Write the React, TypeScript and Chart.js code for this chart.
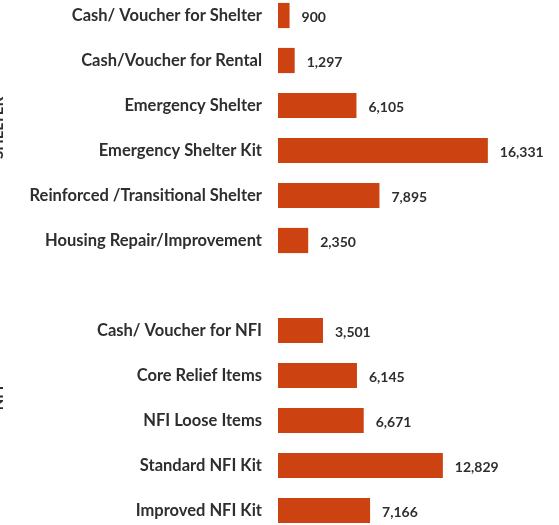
import React, { useEffect, useRef } from "react";
import { Chart, registerables } from "chart.js";

Chart.register(...registerables);

const shelterCategories = [
  "Cash/ Voucher for Shelter",
  "Cash/Voucher for Rental",
  "Emergency Shelter",
  "Emergency Shelter Kit",
  "Reinforced /Transitional Shelter",
  "Housing Repair/Improvement",
];
const shelterValues = [900, 1297, 6105, 16331, 7895, 2350];

const nfiCategories = [
  "Cash/ Voucher for NFI",
  "Core Relief Items",
  "NFI Loose Items",
  "Standard NFI Kit",
  "Improved NFI Kit",
];
const nfiValues = [3501, 6145, 6671, 12829, 7166];

const groupTitles = ["SHELTER", "NFI"];

const categories = [...shelterCategories, "", ...nfiCategories];
const values: (number | null)[] = [...shelterValues, null, ...nfiValues];

const BAR_COLOR = "#CC4210";
const TEXT_COLOR = "#2e2e2e";
const FONT_FAMILY = "Lato, 'Open Sans', sans-serif";

const valueLabelPlugin = {
  id: "valueLabels",
  afterDatasetsDraw(chart: any) {
    const ctx = chart.ctx;
    const meta = chart.getDatasetMeta(0);
    ctx.save();
    ctx.font = `bold 14px ${FONT_FAMILY}`;
    ctx.fillStyle = TEXT_COLOR;
    ctx.textAlign = "left";
    ctx.textBaseline = "middle";
    meta.data.forEach((bar: any, i: number) => {
      const v = values[i];
      if (v == null) return;
      ctx.fillText(v.toLocaleString("en-US"), bar.x + 12, bar.y + 2);
    });
    ctx.restore();
  },
};

const groupTitlePlugin = {
  id: "groupTitles",
  afterDraw(chart: any) {
    const ctx = chart.ctx;
    const y = chart.scales.y;
    const nS = shelterCategories.length;
    const ranges = [
      [0, nS - 1],
      [nS, categories.length - 1],
    ];
    ctx.save();
    ctx.font = `bold 15px ${FONT_FAMILY}`;
    ctx.fillStyle = TEXT_COLOR;
    ctx.textAlign = "center";
    ctx.textBaseline = "alphabetic";
    groupTitles.forEach((t, gi) => {
      const [a, b] = ranges[gi];
      const cy = (y.getPixelForValue(a) + y.getPixelForValue(b)) / 2;
      ctx.save();
      ctx.translate(3, cy);
      ctx.rotate(-Math.PI / 2);
      ctx.fillText(t, 0, 0);
      ctx.restore();
    });
    ctx.restore();
  },
};

export default function App() {
  const ref = useRef<HTMLCanvasElement | null>(null);

  useEffect(() => {
    if (!ref.current) return;
    const chart = new Chart(ref.current, {
      type: "bar",
      data: {
        labels: categories,
        datasets: [
          {
            data: values,
            backgroundColor: BAR_COLOR,
            borderWidth: 0,
            barPercentage: 0.56,
            categoryPercentage: 1,
          },
        ],
      },
      options: {
        indexAxis: "y",
        animation: false,
        responsive: true,
        maintainAspectRatio: false,
        layout: { padding: { left: 0, right: 24, top: 0, bottom: 0 } },
        plugins: {
          legend: { display: false },
          tooltip: { enabled: false },
          title: { display: false },
        },
        scales: {
          x: {
            display: false,
            min: 0,
            max: 20000,
          },
          y: {
            grid: { display: false, drawTicks: false },
            border: { display: false },
            afterFit: (scale: any) => {
              scale.width = 278;
              scale.paddingTop = 0;
              scale.paddingBottom = 0;
            },
            ticks: {
              padding: 16,
              color: TEXT_COLOR,
              font: { family: FONT_FAMILY, size: 16.5, weight: "bold" },
            },
          },
        },
      },
      plugins: [valueLabelPlugin, groupTitlePlugin],
    });
    return () => chart.destroy();
  }, []);

  return (
    <div
      style={{
        position: "absolute",
        left: 0,
        top: -7,
        width: 559,
        height: 540,
      }}
    >
      <canvas ref={ref} />
    </div>
  );
}
